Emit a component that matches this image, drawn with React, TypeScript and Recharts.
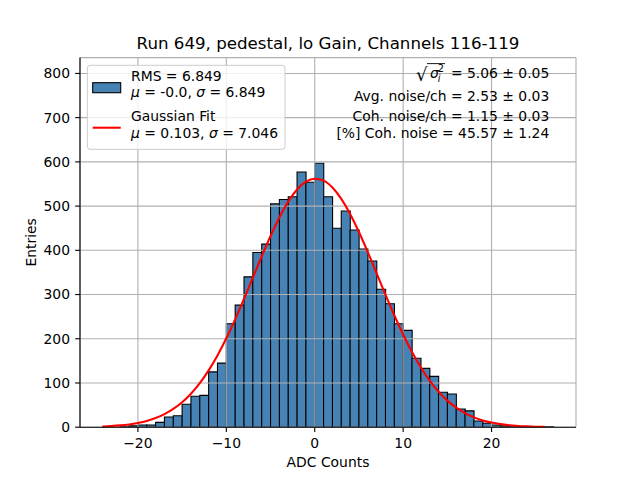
import React from 'react';
import { ComposedChart, Bar, Line, XAxis, YAxis, CartesianGrid } from 'recharts';

const binLeftEdges = [
  -24, -23, -22, -21, -20, -19, -18, -17, -16, -15, -14, -13, -12, -11, -10, -9, -8, -7, -6, -5, -4, -3, -2, -1,
  0, 1, 2, 3, 4, 5, 6, 7, 8, 9, 10, 11, 12, 13, 14, 15, 16, 17, 18, 19, 20, 21, 22, 23, 24, 25, 26,
];
const binCounts = [
  1, 0, 1, 3, 5, 5, 11, 23, 26, 52, 70, 72, 125, 145, 234, 276, 340, 395, 414, 505, 515, 521, 577, 554,
  597, 521, 450, 489, 446, 403, 376, 312, 279, 234, 219, 156, 133, 115, 79, 75, 41, 37, 14, 9, 5, 3, 1, 1, 0, 0, 1,
];

const fitX = [
  -24, -23, -22, -21, -20, -19, -18, -17, -16, -15, -14, -13, -12, -11, -10, -9, -8, -7, -6, -5, -4, -3, -2, -1,
  0, 1, 2, 3, 4, 5, 6, 7, 8, 9, 10, 11, 12, 13, 14, 15, 16, 17, 18, 19, 20, 21, 22, 23, 24, 25, 26,
];
const fitY = [
  1.6, 2.6, 4.1, 6.3, 9.6, 14.2, 20.7, 29.5, 41.3, 56.5, 75.8, 99.7, 128.6, 162.4, 201.0, 243.9, 290.1, 338.2,
  386.2, 432.4, 474.4, 510.1, 537.5, 555.2, 561.9, 557.5, 542.0, 516.4, 482.3, 441.4, 395.9, 348.0, 299.9, 253.2,
  209.6, 169.9, 135.1, 105.3, 80.4, 60.1, 44.1, 31.7, 22.3, 15.4, 10.4, 6.9, 4.5, 2.9, 1.8, 1.1, 0.7,
];

const xTicks = [-20, -10, 0, 10, 20];
const yTicks = [0, 100, 200, 300, 400, 500, 600, 700, 800];
const xDomain: [number, number] = [-26.55, 29.55];
const yDomain: [number, number] = [0, 835.8];

const titleText = 'Run 649, pedestal, lo Gain, Channels 116-119';
const xLabel = 'ADC Counts';
const yLabel = 'Entries';
const legendHist = ['RMS = 6.849', { mu: '-0.0', sigma: '6.849' }];
const legendFit = ['Gaussian Fit', { mu: '0.103', sigma: '7.046' }];
const statsLines = ['Avg. noise/ch = 2.53 \u00b1 0.03', 'Coh. noise/ch = 1.15 \u00b1 0.03', '[%] Coh. noise = 45.57 \u00b1 1.24'];
const sqrtValue = '= 5.06 \u00b1 0.05';

const histData = binLeftEdges.map((e, i) => ({ x: e + 0.5, count: binCounts[i] }));
const fitData = fitX.map((x, i) => ({ x, fit: fitY[i] }));

const FONT = "'DejaVu Sans', sans-serif";
const fmt = (v: number) => String(v).replace('-', '\u2212');

function MuSigma({ x, y, mu, sigma }: { x: number; y: number; mu: string; sigma: string }) {
  return (
    <text x={x} y={y} fontSize={13.9} fontFamily={FONT} fill="#000">
      <tspan fontStyle="italic">{'\u03bc'}</tspan>
      <tspan>{` = ${mu}, `}</tspan>
      <tspan fontStyle="italic">{'\u03c3'}</tspan>
      <tspan>{` = ${sigma}`}</tspan>
    </text>
  );
}

export default function App() {
  const h = legendHist[1] as { mu: string; sigma: string };
  const f = legendFit[1] as { mu: string; sigma: string };
  return (
    <div style={{ position: 'absolute', left: 0, top: 0, width: 640, height: 480, background: '#fff' }}>
      <ComposedChart
        width={640}
        height={480}
        data={histData}
        margin={{ top: 57.6, right: 64, bottom: 22.8, left: 20 }}
        barCategoryGap={0}
        barGap={0}
      >
        <XAxis
          type="number"
          dataKey="x"
          domain={xDomain}
          ticks={xTicks}
          allowDataOverflow
          height={30}
          tickSize={4.86}
          tickMargin={5.8}
          tickFormatter={fmt}
          stroke="#000"
          tick={{ fill: '#000', fontSize: 13.9, fontFamily: FONT }}
          tickLine={{ stroke: '#000', strokeWidth: 1.1 }}
          axisLine={{ stroke: '#000', strokeWidth: 1.1 }}
        />
        <XAxis xAxisId="fit" type="number" dataKey="x" domain={xDomain} allowDataOverflow hide />
        <XAxis
          xAxisId="top"
          orientation="top"
          type="number"
          dataKey="x"
          domain={xDomain}
          allowDataOverflow
          height={0}
          tick={false}
          tickLine={false}
          axisLine={{ stroke: '#000', strokeWidth: 1.1 }}
        />
        <YAxis
          type="number"
          domain={yDomain}
          ticks={yTicks}
          allowDataOverflow
          width={60}
          tickSize={4.86}
          tickMargin={5.1}
          tick={{ fill: '#000', fontSize: 13.9, fontFamily: FONT }}
          tickLine={{ stroke: '#000', strokeWidth: 1.1 }}
          axisLine={{ stroke: '#000', strokeWidth: 1.1 }}
        />
        <YAxis
          yAxisId="right"
          orientation="right"
          type="number"
          domain={yDomain}
          allowDataOverflow
          width={0}
          tick={false}
          tickLine={false}
          axisLine={{ stroke: '#000', strokeWidth: 1.1 }}
        />
        <Bar dataKey="count" fill="#4682b4" stroke="#000" strokeWidth={1.1} isAnimationActive={false} />
        <CartesianGrid stroke="#b0b0b0" strokeWidth={1.1} zIndex={350} />
        <Line
          data={fitData}
          xAxisId="fit"
          dataKey="fit"
          type="monotone"
          stroke="#ff0000"
          strokeWidth={2.08}
          dot={false}
          activeDot={false}
          isAnimationActive={false}
        />
      </ComposedChart>
      <svg
        width={640}
        height={480}
        style={{ position: 'absolute', left: 0, top: 0, pointerEvents: 'none' }}
      >
        <text x={328} y={49} textAnchor="middle" fontSize={16.67} fontFamily={FONT} fill="#000">
          {titleText}
        </text>
        <text x={328} y={466.7} textAnchor="middle" fontSize={13.9} fontFamily={FONT} fill="#000">
          {xLabel}
        </text>
        <text
          x={36.5}
          y={242.4}
          textAnchor="middle"
          fontSize={13.9}
          fontFamily={FONT}
          fill="#000"
          transform="rotate(-90 36.5 242.4)"
        >
          {yLabel}
        </text>

        {/* legend */}
        <rect x={87.3} y={65.3} width={197.7} height={84} rx={2.8} ry={2.8} fill="#fff" fillOpacity={0.8} stroke="#cccccc" strokeWidth={1} />
        <rect x={92.7} y={82.7} width={28} height={10} fill="#4682b4" stroke="#000" strokeWidth={1.1} />
        <line x1={92.7} x2={120.7} y1={127.7} y2={127.7} stroke="#ff0000" strokeWidth={2.08} />
        <text x={131} y={80.7} fontSize={13.9} fontFamily={FONT} fill="#000">
          {legendHist[0] as string}
        </text>
        <MuSigma x={131} y={97.3} mu={h.mu} sigma={h.sigma} />
        <text x={131} y={121} fontSize={13.9} fontFamily={FONT} fill="#000">
          {legendFit[0] as string}
        </text>
        <MuSigma x={131} y={137.7} mu={f.mu} sigma={f.sigma} />

        {/* stats text */}
        <text x={416} y={80.5} fontSize={18} fontFamily={FONT} fill="#000">
          {'\u221a'}
        </text>
        <line x1={427} x2={445} y1={63.6} y2={63.6} stroke="#000" strokeWidth={0.9} />
        <text x={430} y={78.3} fontSize={13.9} fontFamily={FONT} fontStyle="italic" fill="#000">
          {'\u03c3'}
        </text>
        <text x={437.8} y={72} fontSize={9.7} fontFamily={FONT} fill="#000">
          2
        </text>
        <text x={437.8} y={82} fontSize={9.7} fontFamily={FONT} fontStyle="italic" fill="#000">
          i
        </text>
        <text x={549.3} y={78.3} textAnchor="end" fontSize={13.9} fontFamily={FONT} fill="#000">
          {sqrtValue}
        </text>
        <text x={549.3} y={100.7} textAnchor="end" fontSize={13.9} fontFamily={FONT} fill="#000">
          {statsLines[0]}
        </text>
        <text x={549.3} y={121} textAnchor="end" fontSize={13.9} fontFamily={FONT} fill="#000">
          {statsLines[1]}
        </text>
        <text x={549.3} y={137.7} textAnchor="end" fontSize={13.9} fontFamily={FONT} fill="#000">
          {statsLines[2]}
        </text>
      </svg>
    </div>
  );
}
